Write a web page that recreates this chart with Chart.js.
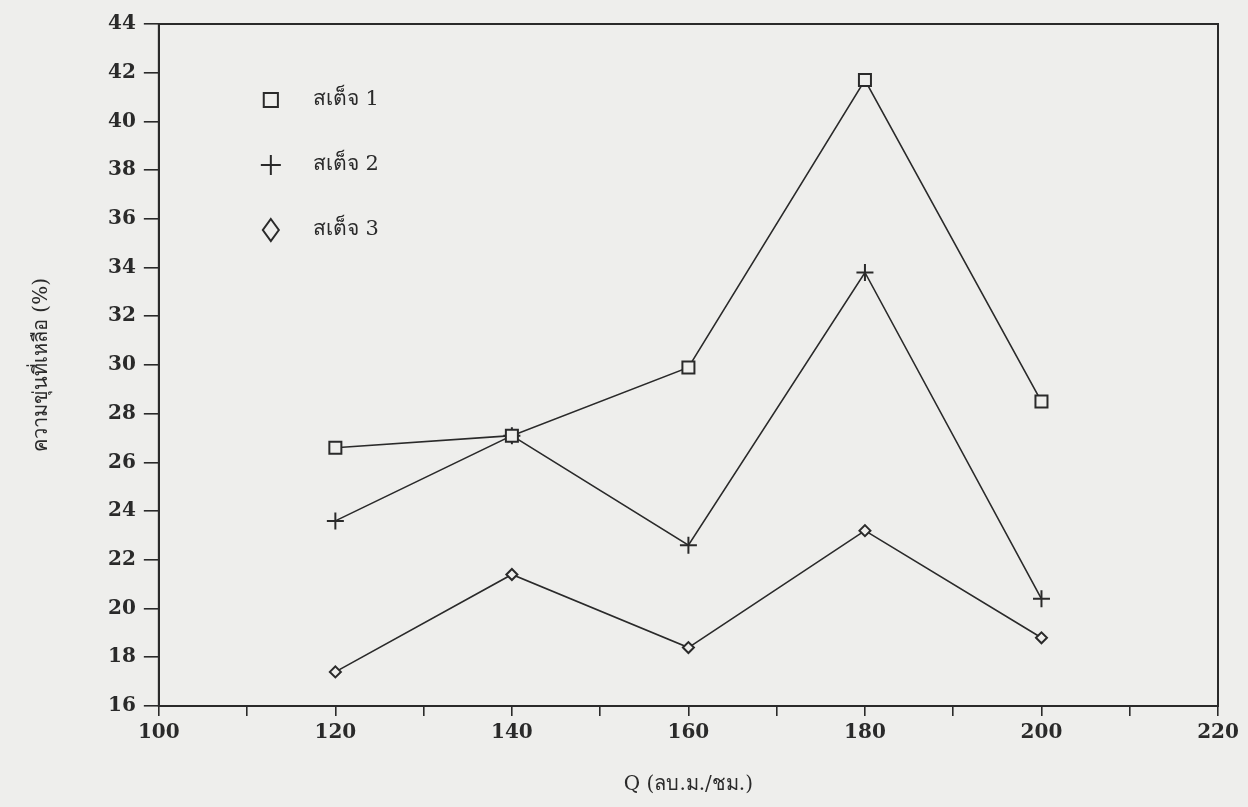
<!DOCTYPE html>
<html>
<head>
<meta charset="utf-8">
<script src="https://cdn.jsdelivr.net/npm/chart.js@4"></script>
<style>
  body { margin: 0; background: #eeeeec; }
  #wrap { width: 1248px; height: 807px; }
</style>
</head>
<body>
<div id="wrap"><canvas id="myChart" width="1248" height="807"></canvas></div>
<script>
const flows = [120, 140, 160, 180, 200];
const stage1 = [26.6, 27.1, 29.9, 41.7, 28.5];
const stage2 = [23.6, 27.1, 22.6, 33.8, 20.4];
const stage3 = [17.4, 21.4, 18.4, 23.2, 18.8];
const seriesNames = ["สเต็จ 1", "สเต็จ 2", "สเต็จ 3"];
const markers = ["rect", "cross", "rectRot"];

const fontFamily = "'DejaVu Serif', 'Noto Sans', serif";
const ink = "#2a2a2a";
const paper = "#eeeeec";

function toPoints(values){
    return values.map((v, i) => ({ x: flows[i], y: v }));
}

function markerSize(marker){
    if (marker === 'rect') return 8.5;
    if (marker === 'cross') return 8.5;
    return 5.5;
}

// box round the plot + legend inside the top left corner
const boxAndLegend = {
    id: 'boxAndLegend',
    afterDraw(chart){
        const ctx = chart.ctx;
        const a = chart.chartArea;
        ctx.save();
        ctx.strokeStyle = ink;
        ctx.lineWidth = 2;
        ctx.strokeRect(a.left, a.top, a.right - a.left, a.bottom - a.top);

        ctx.font = "21px " + fontFamily;
        ctx.textBaseline = 'middle';
        chart.data.datasets.forEach((ds, i) => {
            const y = a.top + 76 + i * 65;
            const x = a.left + 112;
            ctx.lineWidth = 2;
            ctx.strokeStyle = ink;
            ctx.fillStyle = paper;
            if (ds.pointStyle === 'rectRot') {
                // legend diamond is a bit taller than wide
                ctx.beginPath();
                ctx.moveTo(x, y - 11);
                ctx.lineTo(x + 8, y);
                ctx.lineTo(x, y + 11);
                ctx.lineTo(x - 8, y);
                ctx.closePath();
                ctx.fill();
                ctx.stroke();
            } else {
                Chart.helpers.drawPoint(ctx, {
                    pointStyle: ds.pointStyle,
                    radius: 10,
                    rotation: 0,
                    borderWidth: 2
                }, x, y);
            }
            ctx.fillStyle = ink;
            ctx.fillText(ds.label, x + 42, y);
        });
        ctx.restore();
    }
};

function makeDataset(label, values, marker){
    return {
        label: label,
        data: toPoints(values),
        borderColor: ink,
        backgroundColor: paper,
        borderWidth: 1.6,
        pointStyle: marker,
        pointRadius: markerSize(marker),
        pointBorderWidth: 2,
        pointBorderColor: ink,
        pointBackgroundColor: paper,
        tension: 0
    };
}

const ctx = document.getElementById('myChart');

new Chart(ctx, {
    type: 'line',
    data: {
        datasets: [
            makeDataset(seriesNames[0], stage1, markers[0]),
            makeDataset(seriesNames[1], stage2, markers[1]),
            makeDataset(seriesNames[2], stage3, markers[2])
        ]
    },
    options: {
        responsive: false,
        animation: false,
        layout: { padding: { top: 24, right: 30, left: 26, bottom: 6 } },
        plugins: {
            legend: { display: false },
            tooltip: { enabled: false }
        },
        scales: {
            x: {
                type: 'linear',
                min: 100,
                max: 220,
                border: { color: ink, width: 2 },
                grid: { display: true, drawOnChartArea: false, tickLength: 10, color: ink, lineWidth: 1.6 },
                ticks: {
                    stepSize: 10,
                    autoSkip: false,
                    maxRotation: 0,
                    color: ink,
                    padding: 5,
                    font: { family: fontFamily, size: 20, weight: 'bold' },
                    callback: v => (v % 20 === 0 ? v : '')
                },
                title: {
                    display: true,
                    text: 'Q (ลบ.ม./ชม.)',
                    color: ink,
                    padding: { top: 23 },
                    font: { family: fontFamily, size: 20 }
                }
            },
            y: {
                min: 16,
                max: 44,
                border: { color: ink, width: 2 },
                grid: { display: true, drawOnChartArea: false, tickLength: 15, color: ink, lineWidth: 1.6 },
                ticks: {
                    stepSize: 2,
                    color: ink,
                    padding: 8,
                    font: { family: fontFamily, size: 20, weight: 'bold' }
                },
                title: {
                    display: true,
                    text: 'ความขุ่นที่เหลือ (%)',
                    color: ink,
                    padding: { bottom: 46 },
                    font: { family: fontFamily, size: 20 }
                }
            }
        }
    },
    plugins: [boxAndLegend]
});
</script>
</body>
</html>
